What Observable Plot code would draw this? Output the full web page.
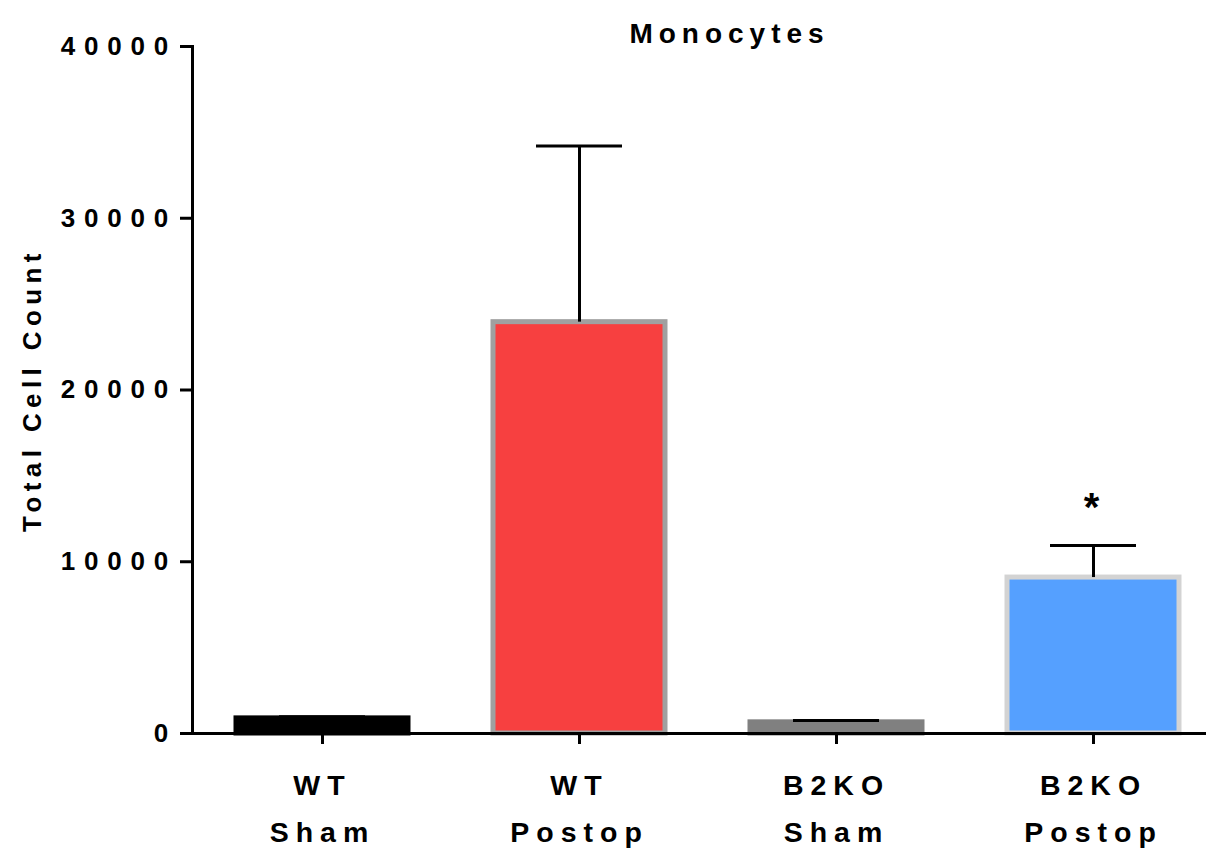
<!DOCTYPE html>
<html>
<head>
<meta charset="utf-8">
<script src="https://cdn.jsdelivr.net/npm/d3@7"></script>
<script src="https://cdn.jsdelivr.net/npm/@observablehq/plot@0.6"></script>
<style>
  html, body { margin: 0; padding: 0; background: #fff; overflow: hidden; }
  #chart svg { display: block; }
  #chart text { font-family: "Liberation Sans", Arial, sans-serif; font-weight: bold; fill: #000; }
  g[aria-label="y-axis tick label"] text { letter-spacing: 8.8px; }
  g[aria-label="x-axis tick label"] text { letter-spacing: 7px; }
  g[aria-label="y-axis label"] text { letter-spacing: 5.4px; }
  .title text { letter-spacing: 6px; }
</style>
</head>
<body>
<div id="chart"></div>
<script>
const categories = ["WT\nSham", "WT\nPostop", "B2KO\nSham", "B2KO\nPostop"];
const means = [880, 23950, 650, 9080];
const errors = [90, 10250, 100, 1870];
const fills = ["#000000", "#F74040", "#808080", "#55A0FF"];
const strokes = ["#000000", "#A0A0A0", "#808080", "#D3D3D3"];
const yTicks = [0, 10000, 20000, 30000, 40000];
const title = "Monocytes";
const yLabel = "Total Cell Count";
const significance = [{cat: "B2KO\nPostop", mark: "*"}];

const data = categories.map((c, i) => ({
  cat: c, mean: means[i], upper: means[i] + errors[i], fill: fills[i], stroke: strokes[i]
}));

const chart = Plot.plot({
  width: 1206,
  height: 854,
  marginLeft: 192,
  marginRight: 0,
  marginTop: 46,
  marginBottom: 121,
  style: {background: "#fff", overflow: "hidden"},
  x: {domain: categories, range: [192, 1223], padding: 0.33, paddingOuter: 0.165, label: null},
  y: {domain: [0, 40000], label: null},
  marks: [
    Plot.barY(data, {x: "cat", y: "mean", fill: d => d.fill, stroke: d => d.stroke, strokeWidth: 5}),
    Plot.ruleX(data, {x: "cat", y1: "mean", y2: "upper", stroke: "#000", strokeWidth: 3}),
    Plot.tickY(data, {x: "cat", y: "upper", stroke: "#000", strokeWidth: 3, insetLeft: 43, insetRight: 43}),
    Plot.text(significance, {x: "cat", y: d => data.find(e => e.cat === d.cat).upper, text: "mark", fontSize: 40, dy: -37, dx: -2, fontWeight: "bold"}),
    Plot.ruleY([0], {stroke: "#000", strokeWidth: 3}),
    Plot.frame({anchor: "left", stroke: "#000", strokeWidth: 3}),
    Plot.axisY({ticks: yTicks, tickSize: 12, tickPadding: 3.5, strokeWidth: 3, fontSize: 26, tickFormat: d => String(d), label: yLabel, labelAnchor: "center", labelArrow: "none", labelOffset: 170}),
    Plot.axisX({tickSize: 11, tickPadding: 17, strokeWidth: 3, fontSize: 28.5, lineHeight: 1.66, label: null}),
    Plot.text([title], {frameAnchor: "top", dx: 30, dy: -23.5, fontSize: 28, fontWeight: "bold", className: "title"})
  ]
});
document.getElementById("chart").appendChild(chart);
</script>
</body>
</html>
